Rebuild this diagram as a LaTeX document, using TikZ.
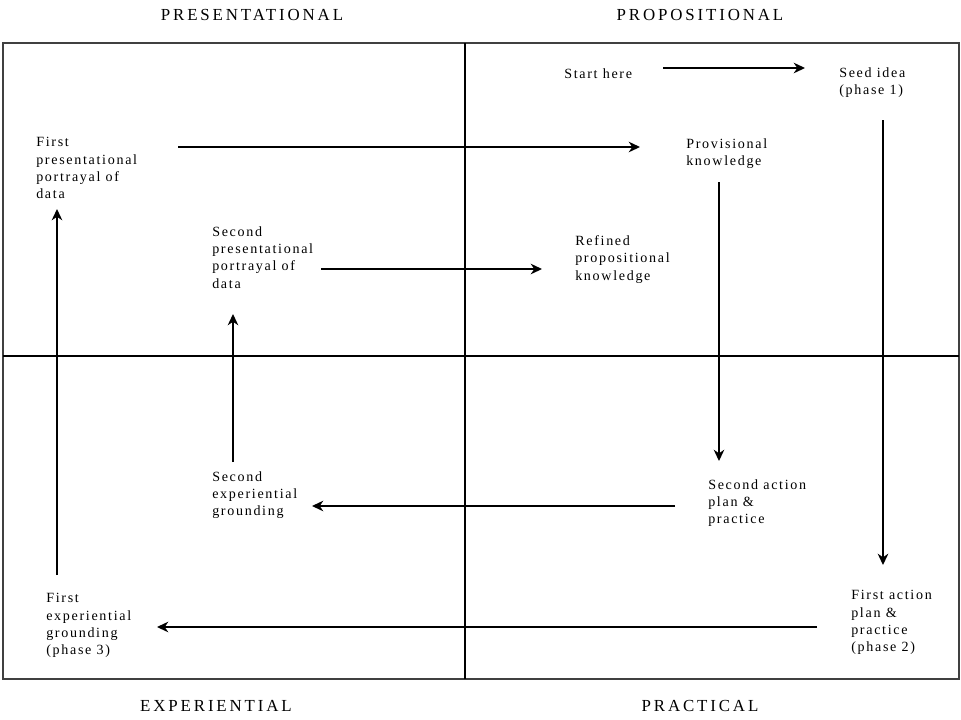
\documentclass[tikz,border=0pt]{standalone}
\usepackage{fontspec}
\setmainfont{Liberation Serif}
\newfontfamily\bodyfont[LetterSpace=12]{Liberation Serif}
\newfontfamily\headfont[LetterSpace=17]{Liberation Serif}
\usepackage{tikz}
\usetikzlibrary{calc,arrows.meta}

\tikzset{
  item/.style={anchor=north west, inner sep=0pt, align=left,
    font=\bodyfont\fontsize{10}{12.4}\selectfont},
  quadlabel/.style={inner sep=0pt, font=\headfont\fontsize{12}{14}\selectfont},
  flow/.style={->, line width=1.1pt},
}

\begin{document}
\begin{tikzpicture}[>={Stealth[length=8pt,width=7.5pt,inset=2.5pt]}, x=0.025cm, y=-0.025cm]
  \useasboundingbox (0,0) rectangle (961,719);

  % Frame and quadrant lines
  \draw[line width=1.4pt, black!75] (3,43) rectangle (959,679);
  \draw[line width=1.2pt] (465,43) -- (465,679);
  \draw[line width=1.2pt] (3,356) -- (959,356);

  % Quadrant labels
  \node[quadlabel] (present) at (252,15) {PRESENTATIONAL};
  \node[quadlabel] (propos) at (700,15) {PROPOSITIONAL};
  \node[quadlabel] (exper) at (216,706) {EXPERIENTIAL};
  \node[quadlabel] (pract) at (700,706) {PRACTICAL};

  % Steps of the cycle
  \node[item] (start) at (564,68) {Start here};
  \node[item] (seed) at (839,67) {Seed idea\\(phase 1)};
  \node[item] (firstpres) at (36,137) {First\\presentational\\portrayal of\\data};
  \node[item] (provis) at (686,138) {Provisional\\knowledge};
  \node[item] (secpres) at (212,226) {Second\\presentational\\portrayal of\\data};
  \node[item] (refined) at (575,235) {Refined\\propositional\\knowledge};
  \node[item] (secexp) at (212,471) {Second\\experiential\\grounding};
  \node[item] (secact) at (708,479) {Second action\\plan \&\\practice};
  \node[item] (firstexp) at (46,593) {First\\experiential\\grounding\\(phase 3)};
  \node[item] (firstact) at (851,590) {First action\\plan \&\\practice\\(phase 2)};

  % Arrows
  \draw[flow] ($(start.north west)+(99,0)$) -- ($(seed.north west)+(-34,1)$);
  \draw[flow] ($(firstpres.north west)+(142,10)$) -- ($(provis.north west)+(-46,9)$);
  \draw[flow] ($(secpres.north west)+(109,43)$) -- ($(refined.north west)+(-33,34)$);
  \draw[flow] ($(provis.north west)+(33,44)$) -- ($(secact.north west)+(11,-18)$);
  \draw[flow] ($(seed.north west)+(44,53)$) -- ($(firstact.north west)+(32,-25)$);
  \draw[flow] ($(secact.north west)+(-33,27)$) -- ($(secexp.north west)+(100,35)$);
  \draw[flow] ($(secexp.north west)+(21,-9)$) -- ($(secpres.north west)+(21,88)$);
  \draw[flow] ($(firstact.north west)+(-34,37)$) -- ($(firstexp.north west)+(111,34)$);
  \draw[flow] ($(firstexp.north west)+(11,-18)$) -- ($(firstpres.north west)+(21,72)$);
\end{tikzpicture}
\end{document}
